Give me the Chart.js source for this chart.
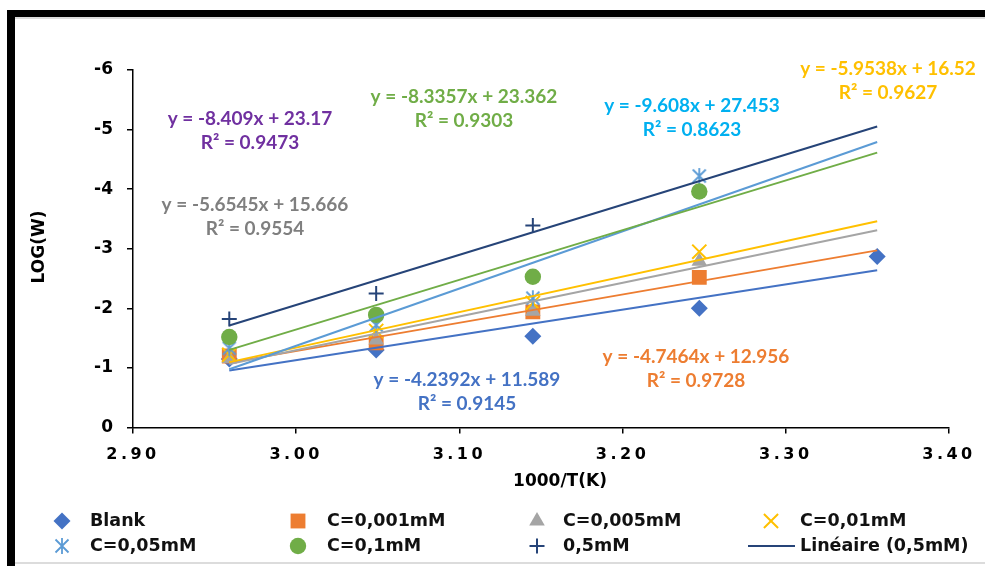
<!DOCTYPE html>
<html>
<head>
<meta charset="utf-8">
<title>LOG(W) vs 1000/T(K)</title>
<script src="https://cdn.jsdelivr.net/npm/chart.js@4.4.1/dist/chart.umd.min.js"></script>
<style>
  html, body { margin: 0; padding: 0; background: #fff; width: 985px; height: 566px; overflow: hidden; }
  #frame { position: absolute; left: 7px; top: 10px; width: 990px; height: 570px;
           border-top: 7px solid #000; border-left: 8px solid #000; box-sizing: border-box; }
  #inner { position: absolute; left: 15px; top: 17px; width: 980px; height: 547px;
           border-top: 2px solid #dcdcdc; border-bottom: 2px solid #dcdcdc; box-sizing: border-box; }
  #c { position: absolute; left: 0; top: 0; }
</style>
</head>
<body>
<div id="frame"></div>
<div id="inner"></div>
<canvas id="c" width="985" height="566"></canvas>
<script>
// ---- data ----
const xValues = [2.959, 3.049, 3.145, 3.247, 3.356];   // 1000/T(K)
const seriesNames = ['Blank', 'C=0,001mM', 'C=0,005mM', 'C=0,01mM', 'C=0,05mM', 'C=0,1mM', '0,5mM'];
const blankLogW = [-1.15, -1.30, -1.53, -2.00, -2.87];
const c001LogW  = [-1.20, -1.42, -1.94, -2.52];
const c005LogW  = [-1.16, -1.47, -1.95, -2.79];
const c01LogW   = [-1.22, -1.62, -2.09, -2.95];
const c05LogW   = [-1.33, -1.72, -2.17, -4.22];
const c1LogW    = [-1.52, -1.89, -2.53, -3.96];
const c5LogW    = [-1.82, -2.25, -3.39];
// linear fits y = a x + b
const slopes     = [-4.2392, -4.7464, -5.6545, -5.9538, -9.608, -8.3357, -8.409];
const intercepts = [11.589, 12.956, 15.666, 16.52, 27.453, 23.362, 23.17];
const rSquared   = [0.9145, 0.9728, 0.9554, 0.9627, 0.8623, 0.9303, 0.9473];
const xTickValues = [2.90, 3.00, 3.10, 3.20, 3.30, 3.40];
const yTickValues = [-6, -5, -4, -3, -2, -1, 0];
const trendLegendName = 'Linéaire (0,5mM)';

const seriesValues = [blankLogW, c001LogW, c005LogW, c01LogW, c05LogW, c1LogW, c5LogW];

// ---- styles ----
const markerColors = ['#4472C4', '#ED7D31', '#A5A5A5', '#FFC000', '#5B9BD5', '#70AD47', '#264478'];
const lineColors   = ['#4472C4', '#ED7D31', '#A5A5A5', '#FFC000', '#5B9BD5', '#70AD47', '#264478'];
const labelColors  = ['#4472C4', '#ED7D31', '#7F7F7F', '#FFC000', '#00B0F0', '#70AD47', '#7030A0'];

function asteriskMarker(color) {
  const size = 18;
  const c = document.createElement('canvas');
  c.width = size; c.height = size;
  const g = c.getContext('2d');
  const m = size / 2;
  g.strokeStyle = color;
  g.lineWidth = 1.8;
  g.beginPath();
  g.moveTo(m, m - 8); g.lineTo(m, m + 8);
  g.moveTo(m - 6.5, m - 6.5); g.lineTo(m + 6.5, m + 6.5);
  g.moveTo(m + 6.5, m - 6.5); g.lineTo(m - 6.5, m + 6.5);
  g.stroke();
  return c;
}

const markerStyles = [
  { pointStyle: 'rectRot', radius: 8.5, borderWidth: 0 },
  { pointStyle: 'rect', radius: 10.5, borderWidth: 0 },
  { pointStyle: 'triangle', radius: 9, borderWidth: 0 },
  { pointStyle: 'crossRot', radius: 10, borderWidth: 2 },
  { pointStyle: asteriskMarker(markerColors[4]), radius: 9, borderWidth: 0 },
  { pointStyle: 'circle', radius: 8.2, borderWidth: 0 },
  { pointStyle: 'cross', radius: 7.5, borderWidth: 2 }
];

// ---- layout (canvas pixels) ----
const plotLeft = 133, plotRight = 949, plotTop = 70, plotBottom = 427.5;
const xAxisBand = 60;
const equationLabels = [      // centre of the two text lines for each fit
  { x: 467, y: 380 },
  { x: 696, y: 357 },
  { x: 255, y: 205 },
  { x: 888, y: 69 },
  { x: 692, y: 106 },
  { x: 464, y: 97 },
  { x: 250, y: 119 }
];
const labelLineGap = 24;
const legendRows = [521, 546];
const legendMarkerX = [62, 298, 537, 771];
const legendTextX = [90, 327, 563, 800];

const uiFont = '"DejaVu Sans", Verdana, sans-serif';
const eqFont = 'Lato, "Open Sans", sans-serif';

// ---- datasets ----
const datasets = [];
seriesValues.forEach((vals, i) => {
  const st = markerStyles[i];
  datasets.push({
    label: seriesNames[i],
    type: 'scatter',
    data: vals.map((y, k) => ({ x: xValues[k], y })),
    showLine: false,
    pointStyle: st.pointStyle,
    pointRadius: st.radius,
    pointHoverRadius: st.radius,
    pointBorderWidth: st.borderWidth,
    pointBackgroundColor: markerColors[i],
    pointBorderColor: markerColors[i],
    order: 20 - i
  });
});
seriesValues.forEach((vals, i) => {
  const x0 = xValues[0], x1 = xValues[xValues.length - 1];
  datasets.push({
    label: 'fit ' + seriesNames[i],
    type: 'line',
    data: [x0, x1].map(x => ({ x, y: slopes[i] * x + intercepts[i] })),
    borderColor: lineColors[i],
    borderWidth: 2,
    pointRadius: 0,
    fill: false,
    tension: 0,
    order: 7 - i
  });
});

// ---- drawing helpers ----
const spacedXLabels = {
  id: 'spacedXLabels',
  beforeDraw(chart) {
    const s = chart.scales.x;
    if (s && !s._spaced) {
      const orig = s.drawLabels.bind(s);
      s.drawLabels = function (area) {
        const ctx = this.ctx;
        ctx.save();
        ctx.letterSpacing = '3.5px';
        orig(area);
        ctx.restore();
      };
      s._spaced = true;
    }
  }
};

function fmt(n) { return String(n); }

const extras = {
  id: 'extras',
  afterDraw(chart) {
    const ctx = chart.ctx;
    ctx.save();
    // fit equations
    ctx.font = 'bold 19px ' + eqFont;
    ctx.textAlign = 'center';
    ctx.textBaseline = 'middle';
    equationLabels.forEach((p, i) => {
      ctx.fillStyle = labelColors[i];
      ctx.fillText('y = ' + fmt(slopes[i]) + 'x + ' + fmt(intercepts[i]), p.x, p.y);
      ctx.fillText('R² = ' + fmt(rSquared[i]), p.x, p.y + labelLineGap);
    });
    // axis titles
    ctx.fillStyle = '#000';
    ctx.font = 'bold 17px ' + uiFont;
    ctx.fillText('1000/T(K)', 560, 482);
    ctx.save();
    ctx.translate(40, 247);
    ctx.rotate(-Math.PI / 2);
    ctx.fillText('LOG(W)', 0, 0);
    ctx.restore();
    // legend
    ctx.textAlign = 'left';
    ctx.font = 'bold 17.5px ' + uiFont;
    const entries = seriesNames.map((n, i) => ({ name: n, i })).concat([{ name: trendLegendName, i: -1 }]);
    entries.forEach((e, k) => {
      const row = Math.floor(k / 4), col = k % 4;
      const y = legendRows[row];
      if (e.i >= 0) {
        const st = markerStyles[e.i];
        ctx.fillStyle = markerColors[e.i];
        ctx.strokeStyle = markerColors[e.i];
        ctx.lineWidth = st.borderWidth || 1;
        Chart.helpers.drawPoint(ctx, {
          pointStyle: st.pointStyle, radius: st.radius, rotation: 0,
          borderWidth: st.borderWidth
        }, legendMarkerX[col], y);
      } else {
        ctx.strokeStyle = lineColors[6];
        ctx.lineWidth = 2;
        ctx.beginPath();
        ctx.moveTo(legendMarkerX[col] - 23, y);
        ctx.lineTo(legendTextX[col] - 5, y);
        ctx.stroke();
      }
      ctx.fillStyle = '#111';
      ctx.fillText(e.name, legendTextX[col], y);
    });
    ctx.restore();
  }
};

new Chart(document.getElementById('c'), {
  type: 'scatter',
  data: { datasets },
  options: {
    responsive: false,
    animation: false,
    devicePixelRatio: 1,
    layout: { padding: { left: 0, top: plotTop, right: 985 - plotRight, bottom: 566 - plotBottom - xAxisBand } },
    plugins: { legend: { display: false }, tooltip: { enabled: false }, title: { display: false } },
    scales: {
      x: {
        type: 'linear',
        min: xTickValues[0],
        max: xTickValues[xTickValues.length - 1],
        afterBuildTicks: s => { s.ticks = xTickValues.map(v => ({ value: v })); },
        afterFit: s => { s.height = xAxisBand; },
        ticks: {
          callback: v => Number(v).toFixed(2),
          color: '#000',
          font: { family: uiFont, size: 16, weight: 'bold' },
          padding: 12,
          maxRotation: 0
        },
        grid: { drawOnChartArea: false, drawTicks: true, tickLength: 6, color: '#000', lineWidth: 1.5 },
        border: { display: true, color: '#000', width: 1.5 }
      },
      y: {
        type: 'linear',
        reverse: true,
        min: yTickValues[0],
        max: yTickValues[yTickValues.length - 1],
        afterBuildTicks: s => { s.ticks = yTickValues.map(v => ({ value: v })); },
        afterFit: s => { s.width = plotLeft; },
        ticks: {
          callback: v => String(v),
          color: '#000',
          font: { family: uiFont, size: 17, weight: 'bold' },
          padding: 14
        },
        grid: { drawOnChartArea: false, drawTicks: true, tickLength: 6, color: '#000', lineWidth: 1.5 },
        border: { display: true, color: '#000', width: 1.5 }
      }
    }
  },
  plugins: [spacedXLabels, extras]
});
</script>
</body>
</html>
